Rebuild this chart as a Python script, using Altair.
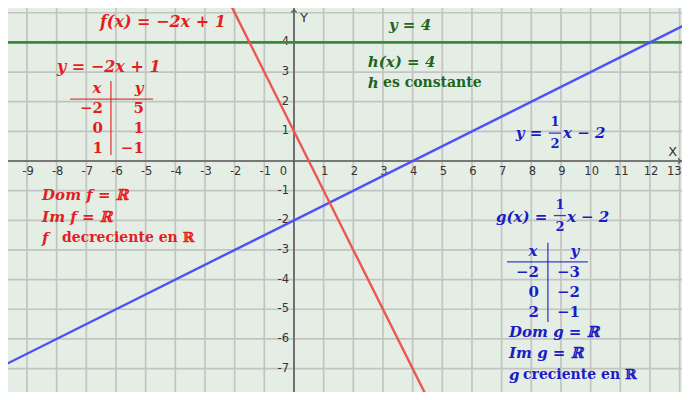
import altair as alt
import pandas as pd

# ---------------- data ----------------
X_DOMAIN = [-9.64, 13.08]
Y_DOMAIN = [-7.79, 5.16]
W, H = 674, 384

grid_x = list(range(-9, 14))
grid_y = list(range(-7, 6))
xtick_vals = [v for v in range(-9, 13) if v != 0]
xtick_last = [13]
ytick_vals = [v for v in range(-7, 5) if v != 0]

# points on the three lines (clipped to the view)
f_x = [-3, 5]
f_y = [7, -9]
g_x = [-11, 15]
g_y = [-7.5, 5.5]
h_x = [-11, 15]
h_y = [4, 4]

red_tab_x = ["−2", "0", "1"]
red_tab_y = ["5", "1", "−1"]
blue_tab_x = ["−2", "0", "2"]
blue_tab_y = ["−3", "−2", "−1"]

RED_T = "#e41e1e"
BLUE_T = "#1c1cc4"
GREEN_T = "#1e661e"
RED_L = "#ec5552"
BLUE_L = "#5050f5"
GREEN_L = "#3a8a3a"
FONT = "DejaVu Serif"

xs = alt.Scale(domain=X_DOMAIN, nice=False, zero=False)
ys = alt.Scale(domain=Y_DOMAIN, nice=False, zero=False)


def X(f="x"):
    return alt.X(f + ":Q", scale=xs, axis=None)


def Y(f="y"):
    return alt.Y(f + ":Q", scale=ys, axis=None)


# ---------------- grid & axes ----------------
gx = alt.Chart(pd.DataFrame({"x": grid_x})).mark_rule(
    color="#c2c4c2", strokeWidth=1.7).encode(x=X())
gy = alt.Chart(pd.DataFrame({"y": grid_y})).mark_rule(
    color="#c2c4c2", strokeWidth=1.7).encode(y=Y())
ax0 = alt.Chart(pd.DataFrame({"x": [0]})).mark_rule(
    color="#5a5a5a", strokeWidth=1.6).encode(x=X())
ay0 = alt.Chart(pd.DataFrame({"y": [0]})).mark_rule(
    color="#5a5a5a", strokeWidth=1.6).encode(y=Y())

xlab = alt.Chart(pd.DataFrame({"x": xtick_vals, "y": [0] * len(xtick_vals),
                               "t": [str(v) for v in xtick_vals]})).mark_text(
    font="DejaVu Sans", fontSize=11.5, color="#333333", dy=11, dx=1,
    baseline="middle", align="center").encode(x=X(), y=Y(), text="t:N")
xlab_last = alt.Chart(pd.DataFrame({"x": xtick_last, "y": [0],
                                    "t": [str(v) for v in xtick_last]})).mark_text(
    font="DejaVu Sans", fontSize=11.5, color="#333333", dy=11, dx=2,
    baseline="middle", align="right").encode(x=X(), y=Y(), text="t:N")
ylab = alt.Chart(pd.DataFrame({"x": [0] * len(ytick_vals), "y": ytick_vals,
                               "t": [str(v) for v in ytick_vals]})).mark_text(
    font="DejaVu Sans", fontSize=11.5, color="#333333", dx=-5,
    baseline="middle", align="right").encode(x=X(), y=Y(), text="t:N")
zlab = alt.Chart(pd.DataFrame({"x": [0], "y": [0], "t": ["0"]})).mark_text(
    font="DejaVu Sans", fontSize=11.5, color="#333333", dx=-7, dy=11,
    baseline="middle", align="right").encode(x=X(), y=Y(), text="t:N")
axis_names = alt.Chart(pd.DataFrame({"x": [12.62, 0.2], "y": [0.32, 4.82],
                                     "t": ["X", "Y"]})).mark_text(
    font="DejaVu Sans", fontSize=13, color="#333333", align="left",
    baseline="middle").encode(x=X(), y=Y(), text="t:N")
arr_x = alt.Chart(pd.DataFrame({"x": [13.04], "y": [0]})).mark_point(
    shape="M -1 -1 L 0 0 L -1 1", filled=False, size=30, color="#5a5a5a",
    strokeWidth=1.2, opacity=1).encode(x=X(), y=Y())
arr_y = alt.Chart(pd.DataFrame({"x": [0], "y": [5.1]})).mark_point(
    shape="M -1 1 L 0 0 L 1 1", filled=False, size=30, color="#5a5a5a",
    strokeWidth=1.2, opacity=1).encode(x=X(), y=Y())

# ---------------- function lines ----------------
def line(xv, yv, col, w):
    return alt.Chart(pd.DataFrame({"x": xv, "y": yv})).mark_line(
        color=col, strokeWidth=w, clip=True).encode(x=X(), y=Y())

lh = line(h_x, h_y, GREEN_L, 2.6)
lg = line(g_x, g_y, BLUE_L, 2.4)
lf = line(f_x, f_y, RED_L, 2.4)

# ---------------- annotations ----------------
# (text, x, y, color, italic, align, size)
ann = [
    # red
    ("f(x) = −2x + 1", -6.54, 4.68, RED_T, True, "left", 16),
    ("y = −2x + 1", -7.99, 3.17, RED_T, True, "left", 16),
    ("x", -6.64, 2.46, RED_T, True, "center", 15),
    ("y", -5.22, 2.46, RED_T, True, "center", 15),
    ("Dom f = ℝ", -8.49, -1.15, RED_T, True, "left", 15),
    ("Im f = ℝ", -8.49, -1.89, RED_T, True, "left", 15),
    ("f", -8.49, -2.60, RED_T, True, "left", 15),
    ("decreciente en ℝ", -7.82, -2.60, RED_T, False, "left", 14),
    # green
    ("y = 4", 3.20, 4.58, GREEN_T, True, "left", 15),
    ("h(x) = 4", 2.49, 3.34, GREEN_T, True, "left", 15),
    ("h", 2.49, 2.63, GREEN_T, True, "left", 15),
    ("es constante", 3.00, 2.63, GREEN_T, False, "left", 14),
    # blue
    ("y =", 7.48, 0.94, BLUE_T, True, "left", 15),
    ("1", 8.80, 1.31, BLUE_T, False, "center", 13),
    ("2", 8.80, 0.59, BLUE_T, False, "center", 13),
    ("x − 2", 9.07, 0.94, BLUE_T, True, "left", 15),
    ("g(x) =", 6.81, -1.89, BLUE_T, True, "left", 15),
    ("1", 8.97, -1.48, BLUE_T, False, "center", 13),
    ("2", 8.97, -2.24, BLUE_T, False, "center", 13),
    ("x − 2", 9.20, -1.89, BLUE_T, True, "left", 15),
    ("x", 8.06, -3.03, BLUE_T, True, "center", 15),
    ("y", 9.47, -3.03, BLUE_T, True, "center", 15),
    ("Dom g = ℝ", 7.25, -5.76, BLUE_T, True, "left", 15),
    ("Im g = ℝ", 7.25, -6.47, BLUE_T, True, "left", 15),
    ("g", 7.25, -7.21, BLUE_T, True, "left", 15),
    ("creciente en ℝ", 7.72, -7.21, BLUE_T, False, "left", 14),
]

red_rows_y = [1.79, 1.11, 0.44]
blue_rows_y = [-3.74, -4.42, -5.09]
for i in range(3):
    ann.append((red_tab_x[i], -6.44, red_rows_y[i], RED_T, False, "right", 15))
    ann.append((red_tab_y[i], -5.06, red_rows_y[i], RED_T, False, "right", 15))
    ann.append((blue_tab_x[i], 8.26, blue_rows_y[i], BLUE_T, False, "right", 15))
    ann.append((blue_tab_y[i], 9.64, blue_rows_y[i], BLUE_T, False, "right", 15))

ann_df = pd.DataFrame(ann, columns=["text", "x", "y", "color", "italic", "align", "size"])

text_layers = []
for (it, al, sz), sub in ann_df.groupby(["italic", "align", "size"]):
    text_layers.append(
        alt.Chart(sub.drop(columns=["italic"])).mark_text(
            font=FONT, fontWeight="bold",
            fontStyle="italic" if it else "normal",
            align=al, baseline="middle", fontSize=float(sz)).encode(
            x=X(), y=Y(), text="text:N", color=alt.Color("color:N", scale=None)))

# rules: fraction bars & table lines (x, x2, y, y2, color)
rules = pd.DataFrame([
    (-7.55, -4.75, 2.09, 2.09, RED_T),
    (-6.17, -6.17, 2.70, 0.20, RED_T),
    (7.18, 9.91, -3.40, -3.40, BLUE_T),
    (8.56, 8.56, -2.76, -5.43, BLUE_T),
    (8.59, 9.00, 0.94, 0.94, BLUE_T),
    (8.76, 9.17, -1.84, -1.84, BLUE_T),
], columns=["x", "x2", "y", "y2", "color"])
rule_layer = alt.Chart(rules).mark_rule(strokeWidth=1.3, opacity=0.85).encode(
    x=X(), x2="x2:Q", y=Y(), y2="y2:Q", color=alt.Color("color:N", scale=None))

chart = alt.layer(
    gx, gy, ax0, ay0, xlab, xlab_last, ylab, zlab, axis_names, arr_x, arr_y,
    lh, lg, lf, rule_layer, *text_layers
).properties(
    width=W, height=H, padding=0, background="#e5eee5",
    autosize=alt.AutoSizeParams(type="none")
).configure_view(stroke=None, fill="#e5eee5")

chart.save("out.html", embed_options={"renderer": "svg", "actions": False})
